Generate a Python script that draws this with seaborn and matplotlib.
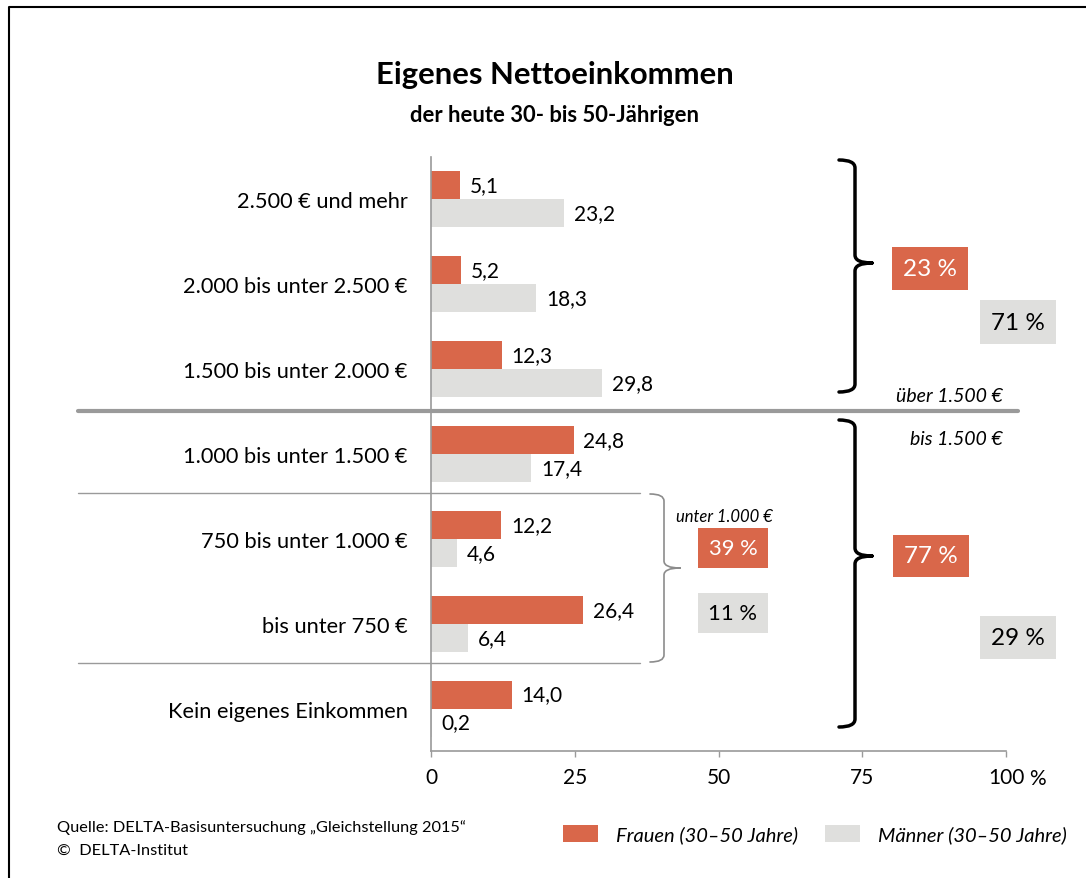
import numpy as np
import pandas as pd
import matplotlib.pyplot as plt
import seaborn as sns
from matplotlib.path import Path
from matplotlib.patches import PathPatch, Rectangle
from matplotlib.lines import Line2D

# ── Data ───────────────────────────────────────────────────────────────────
categories = ["2.500 € und mehr", "2.000 bis unter 2.500 €", "1.500 bis unter 2.000 €",
              "1.000 bis unter 1.500 €", "750 bis unter 1.000 €", "bis unter 750 €",
              "Kein eigenes Einkommen"]
frauen = [5.1, 5.2, 12.3, 24.8, 12.2, 26.4, 14.0]
maenner = [23.2, 18.3, 29.8, 17.4, 4.6, 6.4, 0.2]
groups = ["Frauen (30–50 Jahre)", "Männer (30–50 Jahre)"]
x_ticks = [0, 25, 50, 75, 100]

# summed shares shown next to the braces (Frauen, Männer)
share_over_1500 = [23, 71]
share_to_1500 = [77, 29]
share_under_1000 = [39, 11]

ORANGE = "#D9674A"
GREY = "#DFDFDD"
LINE = "#9A9A9A"
W, H = 1086, 879

sns.set_theme(style="white")
plt.rcParams["font.family"] = ["Lato", "DejaVu Sans"]
plt.rcParams.update({"text.color": "black", "xtick.labelcolor": "black",
                     "ytick.labelcolor": "black"})

df = pd.DataFrame({
    "Kategorie": categories * 2,
    "Anteil": frauen + maenner,
    "Gruppe": [groups[0]] * len(frauen) + [groups[1]] * len(maenner),
})


def fx(px):
    return px / W


def fy(py):
    return 1 - py / H


fig = plt.figure(figsize=(W / 100, H / 100), dpi=100)
ax = fig.add_axes([fx(431), fy(752), fx(1006) - fx(431), fy(158) - fy(752)])

sns.barplot(data=df, x="Anteil", y="Kategorie", hue="Gruppe", orient="h",
            palette=[ORANGE, GREY], saturation=1, width=0.66, gap=0,
            linewidth=0, ax=ax)

for cont, vals in zip(ax.containers, [frauen, maenner]):
    ax.bar_label(cont, labels=[f"{v:.1f}".replace(".", ",") for v in vals],
                 padding=7, fontsize=15, color="black")

ax.set_xlim(0, 100)
ax.set_ylim(len(categories) - 0.5, -0.5)
ax.set_xlabel("")
ax.set_ylabel("")
ax.set_xticks(x_ticks)
ax.set_xticklabels([str(t) for t in x_ticks], fontsize=15)
ax.set_yticks(range(len(categories)))
ax.set_yticklabels(categories, fontsize=15.7)
ax.set_yticks(np.arange(-0.5, len(categories)), minor=True)
ax.tick_params(axis="y", which="major", length=0, pad=17)
ax.tick_params(axis="y", which="minor", length=4.5, color=LINE, width=1)
ax.tick_params(axis="x", length=4.5, color=LINE, width=1, pad=7, bottom=True)
ax.text(105.4, -0.029, "%", transform=ax.get_xaxis_transform(), ha="center",
        va="top", fontsize=15)
sns.despine(ax=ax)
for s in ["left", "bottom"]:
    ax.spines[s].set_color(LINE)
    ax.spines[s].set_linewidth(1.2)

# legend
sns.move_legend(ax, "center left", bbox_to_anchor=(fx(563), fy(835)),
                bbox_transform=fig.transFigure, ncol=2, frameon=False, title=None,
                fontsize=14.5, handlelength=1.75, handleheight=0.9,
                handletextpad=0.9, columnspacing=1.3, borderpad=0, borderaxespad=0)
for t in ax.get_legend().get_texts():
    t.set_fontstyle("italic")

# ── Separator lines ────────────────────────────────────────────────────────
fig.add_artist(Line2D([fx(78), fx(1018)], [fy(412)] * 2, color=LINE, lw=3))
for yy in [494, 664]:
    fig.add_artist(Line2D([fx(78), fx(640)], [fy(yy)] * 2, color=LINE, lw=1))


# ── Braces ─────────────────────────────────────────────────────────────────
def brace(xs, y0, y1, ym, hook, tip, r, color, lw):
    pts = [(xs - hook, y0), (xs, y0), (xs, y0 + r), (xs, ym - r), (xs, ym), (xs + tip, ym),
           (xs + tip, ym), (xs, ym), (xs, ym + r), (xs, y1 - r), (xs, y1), (xs - hook, y1)]
    codes = [Path.MOVETO, Path.CURVE3, Path.CURVE3, Path.LINETO, Path.CURVE3, Path.CURVE3,
             Path.MOVETO, Path.CURVE3, Path.CURVE3, Path.LINETO, Path.CURVE3, Path.CURVE3]
    verts = [(fx(x), fy(y)) for x, y in pts]
    fig.add_artist(PathPatch(Path(verts, codes), fill=False, edgecolor=color, lw=lw,
                             transform=fig.transFigure, capstyle="round"))


brace(855, 161, 393, 264, 16, 17, 8, "black", 2.5)
brace(855, 421, 728, 557, 16, 17, 8, "black", 2.5)
brace(664, 495, 663, 569, 14, 16, 7, "#8C8C8C", 1.2)


# ── Share boxes ────────────────────────────────────────────────────────────
def box(x0, y0, x1, y1, color, value, tcolor, size):
    fig.add_artist(Rectangle((fx(x0), fy(y1)), fx(x1) - fx(x0), fy(y0) - fy(y1),
                             transform=fig.transFigure, facecolor=color, edgecolor="none"))
    fig.text(fx((x0 + x1) / 2), fy((y0 + y1) / 2), f"{value} %", ha="center", va="center",
             color=tcolor, fontsize=size)


box(892, 248, 968, 291, ORANGE, share_over_1500[0], "white", 17.5)
box(980, 301, 1056, 345, GREY, share_over_1500[1], "black", 17.5)
box(893, 536, 969, 578, ORANGE, share_to_1500[0], "white", 17.5)
box(980, 617, 1056, 660, GREY, share_to_1500[1], "black", 17.5)
box(698, 529, 768, 569, ORANGE, share_under_1000[0], "white", 15.8)
box(698, 594, 768, 634, GREY, share_under_1000[1], "black", 15.8)

fig.text(fx(1003), fy(396), "über 1.500 €", ha="right", va="center", style="italic", fontsize=14)
fig.text(fx(1003), fy(440), "bis 1.500 €", ha="right", va="center", style="italic", fontsize=14)
fig.text(fx(724), fy(517), "unter 1.000 €", ha="center", va="center", style="italic", fontsize=12)

# ── Titles, source, frame ──────────────────────────────────────────────────
fig.text(fx(555), fy(75), "Eigenes Nettoeinkommen", ha="center", va="center",
         fontsize=22.3, fontweight="bold")
fig.text(fx(555), fy(116), "der heute 30- bis 50-Jährigen", ha="center", va="center",
         fontsize=15.8, fontweight="bold")
fig.text(fx(57), fy(828), "Quelle: DELTA-Basisuntersuchung „Gleichstellung 2015“",
         ha="left", va="center", fontsize=11.8)
fig.text(fx(57), fy(851), "©  DELTA-Institut", ha="left", va="center", fontsize=11.8)

fig.add_artist(Line2D([fx(9), fx(9), fx(W + 5)], [fy(H + 5), fy(8), fy(8)],
                      color="black", lw=1.5))

plt.savefig("out.png", dpi=100)
plt.close()
